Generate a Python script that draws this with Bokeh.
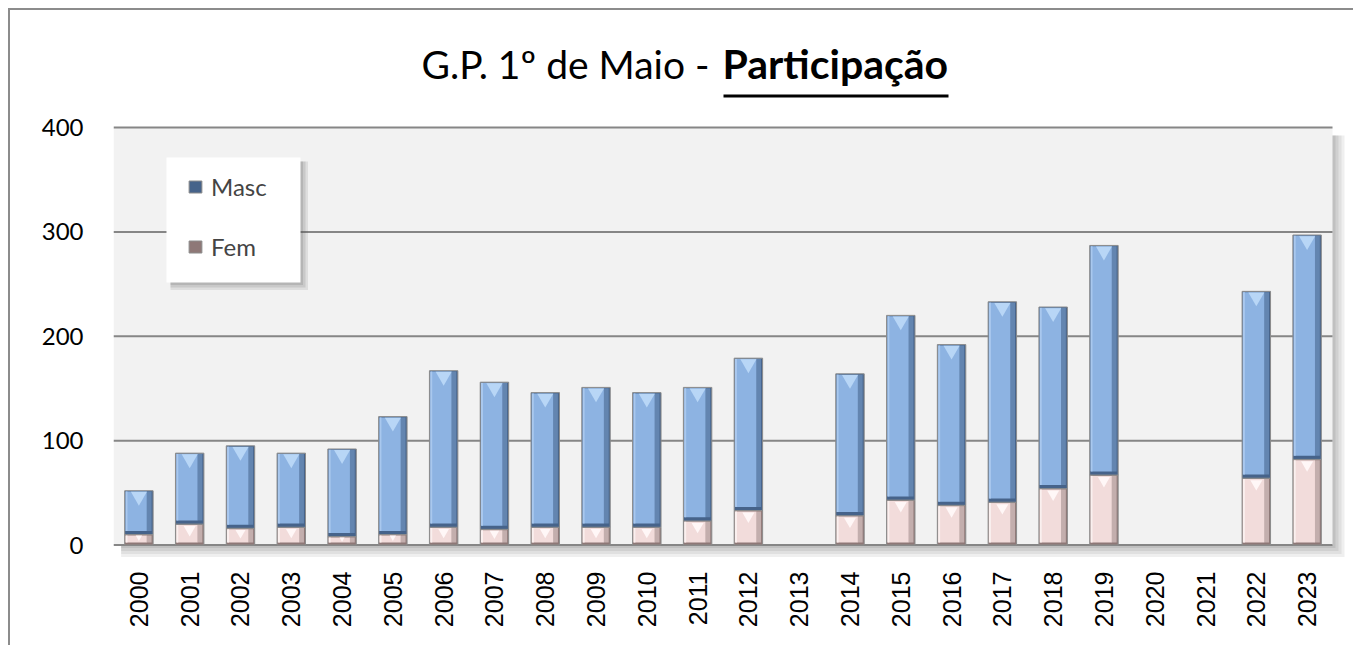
from bokeh.plotting import figure
from bokeh.models import (ColumnDataSource, Range1d, Label, BoxAnnotation,
                          Legend, LegendItem, FixedTicker)
from bokeh.embed import file_html
from bokeh.resources import INLINE
import math

years = ["2000", "2001", "2002", "2003", "2004", "2005", "2006", "2007", "2008", "2009",
         "2010", "2011", "2012", "2013", "2014", "2015", "2016", "2017", "2018", "2019",
         "2020", "2021", "2022", "2023"]
fem = [10, 20, 16, 17, 8, 10, 17, 15, 17, 17, 17, 23, 33, 0, 28, 43, 38, 41, 54, 67, 0, 0, 64, 82]
total = [52, 88, 95, 88, 92, 123, 167, 156, 146, 151, 146, 151, 179, 0, 164, 220, 192, 233, 228, 287, 0, 0, 243, 297]
masc = [t - f for t, f in zip(total, fem)]
y_ticks = [0, 100, 200, 300, 400]

N = len(years)
W, H = 1345, 637
FL, FB = 103, 90                      # frame left / bottom border (px)
PX_X = (1322 - FL) / N                # px per x unit
PX_Y = 417.5 / 400                    # px per y unit

# category centres on a numeric axis (one unit per year)
xs = [i + 0.5 for i in range(len(years))]
keep = [i for i, t in enumerate(total) if t > 0]
kx = [xs[i] for i in keep]
kf = [fem[i] for i in keep]
kt = [total[i] for i in keep]
src = ColumnDataSource(dict(
    x=kx, Fem=kf, Masc=[masc[i] for i in keep],
    x_in=[x - 0.05 for x in kx], x_band=[x + 0.2 for x in kx], x_left=[x - 0.245 for x in kx],
    fem_bot=[2.5 for f in kf], fem_top=[f - 0.8 for f in kf],
    masc_bot=[f + 3.5 for f in kf], masc_top=[t - 0.8 for t in kt],
    tri_m=[t - 5.5 for t in kt],
    tri_f=[f - min(12, f * PX_Y * 0.6) / PX_Y * 0.45 for f in kf],
    tri_f_size=[min(12, f * PX_Y * 0.6) for f in kf],
))

x_end = N + (W - 1322) / PX_X
y_start = -((H - FB) - 534.5) / PX_Y
y_end = 400 + 117 / PX_Y

p = figure(x_range=Range1d(0, x_end), y_range=Range1d(y_start, y_end),
           width=W, height=H, output_backend="svg", toolbar_location=None,
           min_border_left=FL, min_border_right=0, min_border_top=0, min_border_bottom=FB,
           styles={"margin-left": "8px", "margin-top": "8px",
                   "border-left": "2px solid #8C8C8C", "border-top": "2px solid #8C8C8C"})
p.background_fill_color = "white"
p.border_fill_color = "white"
p.outline_line_color = None
p.xgrid.visible = False
p.ygrid.visible = False

# plot area background, shadow and grid lines
for k, a in enumerate([0.10, 0.10, 0.12, 0.14]):
    off = (4 - k) * 3
    p.add_layout(BoxAnnotation(left=0.15, right=N + off / PX_X, top=400 - 8 / PX_Y,
                               bottom=-off / PX_Y, fill_color="#606060", fill_alpha=a,
                               line_color=None, level="underlay"))
p.add_layout(BoxAnnotation(left=0, right=N, bottom=0, top=400, fill_color="#F2F2F2",
                           fill_alpha=1, line_color=None, level="underlay"))
for t in y_ticks:
    p.add_layout(BoxAnnotation(left=0, right=N, bottom=t - 1.0 / PX_Y, top=t + 1.0 / PX_Y,
                               fill_color="#868686", fill_alpha=1, line_color=None,
                               level="underlay"))

# axes
for ax in (p.xaxis, p.yaxis):
    ax.axis_line_color = None
    ax.major_tick_line_color = None
    ax.minor_tick_line_color = None
    ax.major_label_text_color = "black"
p.yaxis.ticker = FixedTicker(ticks=y_ticks)
p.yaxis.major_label_text_font = "Lato"
p.yaxis.major_label_text_font_size = "24px"
p.yaxis.major_label_standoff = 24
p.xaxis.ticker = FixedTicker(ticks=xs)
p.xaxis.major_label_overrides = {x: y for x, y in zip(xs, years)}
p.xaxis.major_label_text_font = "Liberation Sans"
p.xaxis.major_label_text_font_size = "25px"
p.xaxis.major_label_orientation = math.pi / 2
p.xaxis.major_label_standoff = 8

BW = 0.56
stack = p.vbar_stack(["Fem", "Masc"], x="x", width=BW, source=src,
                     fill_color=["#8E7877", "#46638A"], line_color="#8C8C8C", line_width=1)
# bevel shading
p.vbar(x="x_band", width=0.1, bottom="fem_bot", top="fem_top", source=src,
       fill_color="#C3AEAD", line_color=None)
p.vbar(x="x_band", width=0.1, bottom="masc_bot", top="masc_top", source=src,
       fill_color="#6385B0", line_color=None)
p.vbar(x="x_in", width=0.41, bottom="fem_bot", top="fem_top", source=src,
       fill_color="#F2DCDB", line_color=None)
p.vbar(x="x_in", width=0.41, bottom="masc_bot", top="masc_top", source=src,
       fill_color="#8DB3E2", line_color=None)
p.vbar(x="x_left", width=0.04, bottom="fem_bot", top="fem_top", source=src,
       fill_color="#FAF0EF", line_color=None)
p.vbar(x="x_left", width=0.04, bottom="masc_bot", top="masc_top", source=src,
       fill_color="#A9C8EE", line_color=None)
p.scatter(x="x", y="tri_m", source=src, marker="inverted_triangle", size=16,
          fill_color="#B8D6F6", line_color=None)
p.scatter(x="x", y="tri_f", source=src, marker="inverted_triangle", size="tri_f_size",
          fill_color="#FFF7F7", line_color=None)

# legend box with shadow
lx0, lx1 = (156 - FL) / PX_X, (290 - FL) / PX_X
ly1, ly0 = 400 - 30 / PX_Y, 400 - 155 / PX_Y
for k, a in enumerate([0.12, 0.14, 0.16]):
    off = (3 - k) * 2.5
    p.add_layout(BoxAnnotation(left=lx0 + 4 / PX_X, right=lx1 + off / PX_X,
                               top=ly1 - 4 / PX_Y, bottom=ly0 - off / PX_Y,
                               fill_color="#505050", fill_alpha=a, line_color=None))
p.add_layout(BoxAnnotation(left=lx0, right=lx1, top=ly1, bottom=ly0, fill_color="white",
                           fill_alpha=1, line_color=None))
legend = Legend(items=[LegendItem(label="Masc", renderers=[stack[1]]),
                       LegendItem(label="Fem", renderers=[stack[0]])],
                location=(74, 296), padding=22, spacing=31, label_height=22,
                glyph_height=15, glyph_width=16, label_standoff=8,
                label_text_font="Lato", label_text_font_size="24px",
                border_line_color=None, background_fill_alpha=0, margin=0)
p.add_layout(legend)

# title
ty = 400 + (117 - 53) / PX_Y
p.add_layout(Label(x=(709 - FL) / PX_X, y=ty, text="G.P. 1º de Maio - ", text_align="right",
                   text_baseline="middle", text_font="Lato", text_font_size="39px",
                   text_color="black"))
p.add_layout(Label(x=(712 - FL) / PX_X, y=ty, text="Participação", text_align="left",
                   text_baseline="middle", text_font="Lato", text_font_size="41px",
                   text_font_style="bold", text_color="black"))
p.add_layout(BoxAnnotation(left=(713 - FL) / PX_X, right=(938 - FL) / PX_X,
                           top=400 + (117 - 84) / PX_Y, bottom=400 + (117 - 87) / PX_Y,
                           fill_color="black", fill_alpha=1, line_color=None))

open("out.html", "w").write(file_html(p, INLINE))
